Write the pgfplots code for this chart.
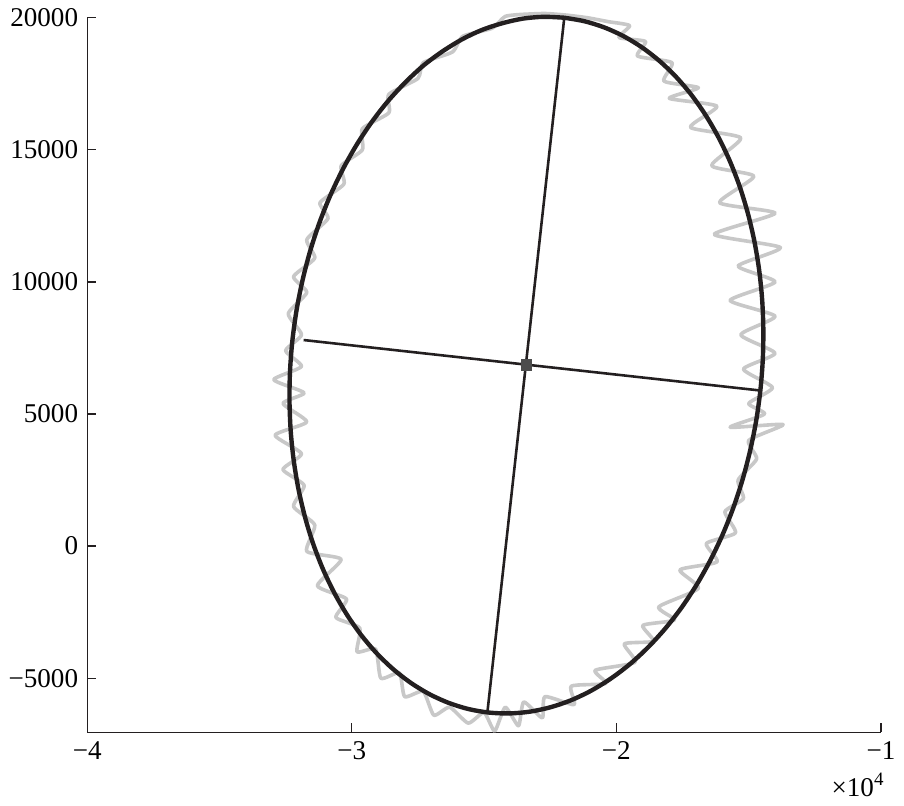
\documentclass[border=0pt]{standalone}
\usepackage{fontspec}
\setmainfont{Liberation Serif}
\usepackage{pgfplots}
\pgfplotsset{compat=1.18}

\definecolor{trace}{RGB}{200,200,200}
\definecolor{ink}{RGB}{35,31,32}

% measured trace (gray) and fitted ellipse (black)
\pgfplotstableread{
x y
-23500 20130
-22700 20160
-21900 20100
-21100 20000
-20300 19850
-19500 19700
-19900 19250
-18900 19100
-19200 18550
-17900 18300
-18200 17600
-16900 17350
-18000 16950
-16200 16650
-17200 15850
-15300 15450
-16400 14400
-14800 14000
-16100 13000
-14000 12600
-16300 11800
-13800 11300
-15400 10600
-14000 10000
-15700 9300
-14000 8700
-15300 8000
-14000 7300
-15200 6700
-14100 6000
-15000 5400
-14400 5000
-15700 4500
-13700 4600
-15000 4000
-14700 3300
-15400 2500
-15200 1800
-15900 1300
-15500 500
-16600 100
-16200 -600
-17600 -900
-16900 -1600
-18400 -2300
-17800 -2800
-19000 -3000
-18600 -3600
-19700 -3700
-19300 -4400
-20800 -4700
-20400 -5200
-21700 -5300
-21600 -6000
-22700 -5700
-22800 -6500
-23500 -5900
-23700 -6800
-24200 -6100
-24600 -7000
-25000 -6300
-25600 -6700
-26300 -6100
-26900 -6400
-27300 -5500
-28000 -5700
-28200 -4800
-28900 -5000
-29100 -3900
-29800 -4000
-29700 -3100
-30600 -2700
-30200 -2000
-31300 -1500
-30400 -500
-31700 -200
-31400 800
-32200 1500
-31800 2300
-32600 2900
-31900 3500
-32900 4200
-31700 4700
-32600 5400
-31800 5800
-32950 6300
-31900 6800
-32500 7400
-31900 8000
-32400 8800
-31700 9600
-32200 10200
-31400 10900
-31700 11600
-30900 12400
-31200 13000
-30300 13700
-30400 14400
-29600 15000
-29600 15800
-28600 16400
-28600 17100
-27500 17700
-27300 18300
-26200 18700
-25800 19300
-24700 19600
-24200 20050
-23500 20130
}\tracedata

\pgfplotstableread{
x y
-21971 20000
-21206 19867
-20458 19633
-19732 19303
-19035 18879
-18369 18362
-17742 17758
-17159 17072
-16623 16305
-16139 15469
-15709 14567
-15338 13606
-15030 12593
-14784 11536
-14604 10445
-14491 9326
-14446 8187
-14468 7040
-14559 5889
-14717 4746
-14943 3622
-15231 2519
-15581 1450
-15991 422
-16459 -557
-16978 -1480
-17546 -2340
-18159 -3128
-18812 -3841
-19499 -4475
-20217 -5019
-20958 -5475
-21719 -5837
-22493 -6100
-23271 -6267
-24053 -6334
-24829 -6300
-25594 -6167
-26342 -5933
-27068 -5603
-27765 -5179
-28431 -4662
-29058 -4058
-29641 -3372
-30177 -2605
-30661 -1769
-31091 -867
-31462 94
-31770 1107
-32016 2164
-32196 3255
-32309 4374
-32354 5513
-32332 6660
-32241 7811
-32083 8954
-31857 10078
-31569 11181
-31219 12250
-30809 13278
-30341 14257
-29822 15180
-29254 16040
-28641 16831
-27988 17541
-27301 18182
-26583 18719
-25839 19178
-25081 19537
-24307 19792
-23529 19967
-22751 20034
-21971 20000
}\ellipsedata

\begin{document}
\begin{tikzpicture}
  \begin{axis}[
      scale only axis,
      width=307.7pt, height=277pt,
      xmin=-40000, xmax=-10000,
      ymin=-7050, ymax=20000,
      axis x line=bottom, axis y line=left,
      axis line style={-, line width=0.5pt, ink},
      scaled ticks=false,
      xtick={-40000,-30000,-20000,-10000},
      xticklabels={−4,−3,−2,−1},
      ytick={-5000,0,5000,10000,15000,20000},
      yticklabels={−5000,0,5000,10000,15000,20000},
      tick align=inside,
      major tick length=3.5pt,
      tick style={ink, line width=0.5pt},
      tick label style={font=\fontsize{10.5}{12}\selectfont},
      clip=false
    ]
    \addplot[trace, line width=1.4pt, smooth, tension=0.35, line join=round]
      table[x=x, y=y] {\tracedata};

    \addplot[ink, line width=1.7pt, smooth] table[x=x, y=y] {\ellipsedata};

    % major and minor axes
    \addplot[ink, line width=1pt] coordinates {(-21970,19990) (-24870,-6250)};
    \addplot[ink, line width=1pt] coordinates {(-31820,7800) (-14559,5889)};

    % centre
    \addplot[only marks, mark=square*, mark size=2pt, color=black!70]
      coordinates {(-23400,6850)};

    \node[anchor=east, font=\fontsize{10.5}{12}\selectfont, xshift=5pt, yshift=-20.4pt]
      at (rel axis cs:1,0) {×10\textsuperscript{4}};
  \end{axis}
\end{tikzpicture}
\end{document}
